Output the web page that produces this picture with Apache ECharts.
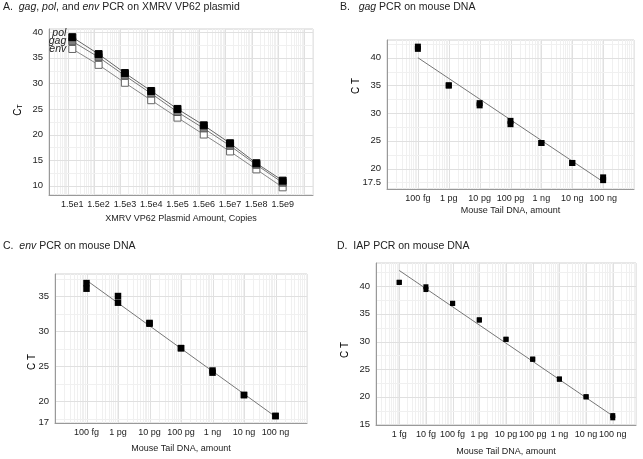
<!DOCTYPE html>
<html><head><meta charset="utf-8">
<script src="https://cdn.jsdelivr.net/npm/echarts@6/dist/echarts.min.js"></script>
<style>html,body{margin:0;padding:0;background:#fff}#c{width:643px;height:459px}</style>
</head><body><div id="c"></div>
<script>
// Panel A: XMRV VP62 plasmid
const aLabels = ['1.5e1','1.5e2','1.5e3','1.5e4','1.5e5','1.5e6','1.5e7','1.5e8','1.5e9'];
const aCopies = [1.5e1,1.5e2,1.5e3,1.5e4,1.5e5,1.5e6,1.5e7,1.5e8,1.5e9];
const aPol = [39.0,35.7,32.0,28.5,25.0,21.8,18.3,14.4,11.0];
const aGag = [38.2,35.1,31.5,28.0,24.4,21.2,17.8,14.1,10.6];
const aEnv = [36.7,33.6,30.1,26.7,23.3,20.0,16.7,13.2,9.7];
const aYTicks = [10,15,20,25,30,35,40];

// Panel B: gag PCR on mouse DNA (amounts in fg)
const bLabels = ['100 fg','1 pg','10 pg','100 pg','1 ng','10 ng','100 ng'];
const bAmount = [1e2,1e3,1e4,1e5,1e6,1e7,1e8];
const bRep1 = [41.6,35.0,31.4,28.0,24.6,21.0,17.9];
const bRep2 = [42.0,35.0,31.8,28.6,24.6,21.0,18.4];
const bFitX = [1e2,1e8];
const bFitY = [40.0,17.6];
const bYTicks = [17.5,20,25,30,35,40];

// Panel C: env PCR on mouse DNA
const cLabels = ['100 fg','1 pg','10 pg','100 pg','1 ng','10 ng','100 ng'];
const cAmount = [1e2,1e3,1e4,1e5,1e6,1e7,1e8];
const cRep1 = [36.9,35.05,31.2,27.6,24.4,20.9,17.9];
const cRep2 = [36.1,34.1,31.1,27.6,24.1,20.9,17.9];
const cFitX = [1e2,1e8];
const cFitY = [37.3,17.8];
const cYTicks = [17,20,25,30,35];

// Panel D: IAP PCR on mouse DNA
const dLabels = ['1 fg','10 fg','100 fg','1 pg','10 pg','100 pg','1 ng','10 ng','100 ng'];
const dAmount = [1e0,1e1,1e2,1e3,1e4,1e5,1e6,1e7,1e8];
const dRep1 = [40.7,39.9,36.9,33.9,30.4,26.8,23.2,20.0,16.6];
const dRep2 = [40.7,39.4,36.9,33.9,30.4,26.8,23.2,20.0,16.2];
const dFitX = [1e0,1e8];
const dFitY = [42.85,16.55];
const dYTicks = [15,20,25,30,35,40];

const FONT = 'Liberation Sans, Arial, sans-serif';
const lg = v => Math.log10(v);
const chart = echarts.init(document.getElementById('c'), null, {renderer:'canvas'});

const grids = [
  {left:49, top:29, width:264, height:166},
  {left:387, top:40, width:247, height:149},
  {left:55, top:274, width:252, height:149},
  {left:376, top:263, width:260, height:162}
];
const xRanges = [[0.29,10.33],[1,9],[1,9],[-0.87,8.87]];
const yRanges = [[8.2,40.6],[16.3,43.2],[16.9,38.2],[14.9,44.2]];
const xLab = [aLabels,bLabels,cLabels,dLabels];
const xPos = [aCopies.map(lg),bAmount.map(lg),cAmount.map(lg),dAmount.map(lg)];
const yTicks = [aYTicks,bYTicks,cYTicks,dYTicks];
const xNames = ['XMRV VP62 Plasmid Amount, Copies','Mouse Tail DNA, amount','Mouse Tail DNA, amount','Mouse Tail DNA, amount'];
const xNameGaps = [19,17,21,22];

const xAxis = grids.map((g,i)=>({
  type:'value', gridIndex:i, min:xRanges[i][0], max:xRanges[i][1],
  splitLine:{show:false}, axisTick:{show:false},
  axisLine:{show:true, onZero:false, lineStyle:{color:'#999', width:1}},
  axisLabel:{customValues:xPos[i], fontFamily:FONT, fontSize:9, color:'#222', margin:5,
    formatter:v=>{const k=xPos[i].findIndex(p=>Math.abs(p-v)<1e-6);return k>=0?xLab[i][k]:'';}},
  name:xNames[i], nameLocation:'middle', nameGap:xNameGaps[i],
  nameTextStyle:{fontFamily:FONT, fontSize:9, color:'#222'}
}));
const yAxis = grids.map((g,i)=>({
  type:'value', gridIndex:i, min:yRanges[i][0], max:yRanges[i][1],
  splitLine:{show:false}, axisTick:{show:false},
  axisLine:{show:true, onZero:false, lineStyle:{color:'#999', width:1}},
  axisLabel:{customValues:yTicks[i], fontFamily:FONT, fontSize:9.5, color:'#222', margin:6}
}));

// background grid (log minor verticals, horizontal every 2.5)
function gridSeries(i){
  const [x0,x1]=xRanges[i], [y0,y1]=yRanges[i];
  const data=[];
  for(let n=Math.floor(x0)-1;n<=Math.ceil(x1);n++){
    for(let m=1;m<=9;m++){
      const v=n+Math.log10(m);
      if(v>x0&&v<x1) data.push([v, 0, m===1?1:0]);
    }
  }
  for(let v=Math.ceil(y0/2.5)*2.5; v<y1; v+=2.5){
    data.push([v, 1, (v%5===0)?1:0]);
  }
  return {type:'custom', xAxisIndex:i, yAxisIndex:i, data:data, silent:true, z:0, animation:false,
    encode:{x:0, y:0},
    renderItem:(params, api)=>{
      const v=api.value(0), kind=api.value(1), major=api.value(2);
      const cs=params.coordSys;
      let shape;
      if(kind===0){
        const x=Math.round(api.coord([v, y0])[0])+0.5;
        shape={x1:x, y1:cs.y, x2:x, y2:cs.y+cs.height};
      } else {
        const y=Math.round(api.coord([x0, v])[1])+0.5;
        shape={x1:cs.x, y1:y, x2:cs.x+cs.width, y2:y};
      }
      return {type:'line', shape, style:{stroke: major?'#e0e0e0':'#f0f0f0', lineWidth:1}};
    }};
}

function pts(xs, ys){ return xs.map((x,k)=>[lg(x), ys[k]]); }

function aSeries(name, ys, fill, border, lineColor, labelOffset){
  const d = pts(aCopies, ys).map((p,k)=> k===0 ? {value:p, label:{show:true, position:'left', distance:2,
      formatter:name, fontStyle:'italic', fontFamily:FONT, fontSize:10.5, color:'#222', offset:labelOffset}} : p);
  return {type:'line', xAxisIndex:0, yAxisIndex:0, data:d, symbol:'rect', symbolSize:7,
    lineStyle:{color:lineColor, width:1}, itemStyle:{color:fill, borderColor:border, borderWidth:1, opacity:1},
    showAllSymbol:true, animation:false, z:3};
}

function scatter(i, xs, ys, size){
  return {type:'scatter', xAxisIndex:i, yAxisIndex:i, data:pts(xs,ys), symbol:'rect', symbolSize:size,
    itemStyle:{color:'#000', opacity:1}, animation:false, z:4};
}
function fit(i, xs, ys){
  return {type:'line', xAxisIndex:i, yAxisIndex:i, data:pts(xs,ys), symbol:'none',
    lineStyle:{color:'#777', width:1}, animation:false, z:3};
}

const titleRich = {i:{fontStyle:'italic', fontFamily:FONT, fontSize:10.5, color:'#222'}};
const titleStyle = {fontFamily:FONT, fontSize:10.5, color:'#222', fontWeight:'normal', rich:titleRich};
const ctRich = {c:{fontFamily:FONT, fontSize:10, color:'#222'}, t:{fontFamily:FONT, fontSize:7, color:'#222', padding:[4,0,0,0]}};

const option = {
  backgroundColor:'#fff',
  animation:false,
  title:[
    {text:'A.  {i|gag}, {i|pol}, and {i|env} PCR on XMRV VP62 plasmid', left:3, top:2, padding:0, textStyle:titleStyle},
    {text:'B.   {i|gag} PCR on mouse DNA', left:340, top:2, padding:0, textStyle:titleStyle},
    {text:'C.  {i|env} PCR on mouse DNA', left:3, top:241, padding:0, textStyle:titleStyle},
    {text:'D.  IAP PCR on mouse DNA', left:337, top:241, padding:0, textStyle:titleStyle}
  ],
  grid: grids.map(g=>Object.assign({show:true, borderColor:'#d0d0d0', borderWidth:1, backgroundColor:'#fff', containLabel:false}, g)),
  xAxis, yAxis,
  graphic:[
    {type:'text', x:18, y:110, rotation:Math.PI/2, style:{text:'{c|C}{t|T}', rich:ctRich, align:'center', verticalAlign:'middle'}},
    {type:'text', x:356, y:86, rotation:Math.PI/2, style:{text:'{c|C}{c| T}', rich:ctRich, align:'center', verticalAlign:'middle'}},
    {type:'text', x:32, y:362, rotation:Math.PI/2, style:{text:'{c|C}{c| T}', rich:ctRich, align:'center', verticalAlign:'middle'}},
    {type:'text', x:345, y:350, rotation:Math.PI/2, style:{text:'{c|C}{c| T}', rich:ctRich, align:'center', verticalAlign:'middle'}}
  ],
  series:[
    gridSeries(0), gridSeries(1), gridSeries(2), gridSeries(3),
    aSeries('env', aEnv, '#ffffff', '#666', '#888', [0,0]),
    aSeries('gag', aGag, '#808080', '#555', '#777', [0,0]),
    aSeries('pol', aPol, '#000000', '#000', '#666', [0,-4]),
    fit(1, bFitX, bFitY), scatter(1, bAmount, bRep1, 6), scatter(1, bAmount, bRep2, 6),
    fit(2, cFitX, cFitY), scatter(2, cAmount, cRep1, 6.5), scatter(2, cAmount, cRep2, 6.5),
    fit(3, dFitX, dFitY), scatter(3, dAmount, dRep1, 5), scatter(3, dAmount, dRep2, 5)
  ]
};
chart.setOption(option);
</script></body></html>
